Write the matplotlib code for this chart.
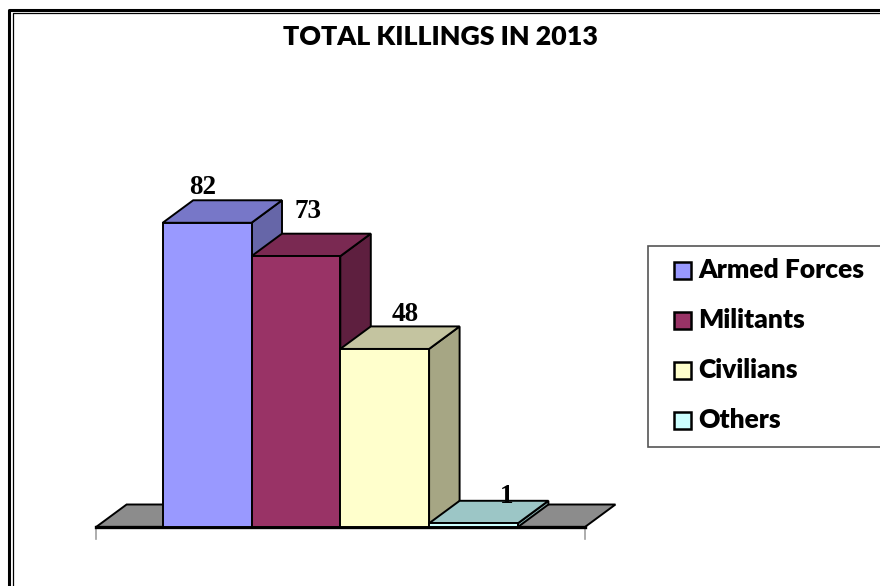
import matplotlib.pyplot as plt
from matplotlib.patches import Polygon, Rectangle

# data
categories = ['Armed Forces', 'Militants', 'Civilians', 'Others']
killings = [82, 73, 48, 1]
title = 'TOTAL KILLINGS IN 2013'

# colours (front, top, side faces)
front_colors = ['#9999FF', '#993366', '#FFFFCC', '#CCFFFF']
top_colors = ['#7777C8', '#7A2952', '#C4C4A0', '#9CC6C6']
side_colors = ['#6666A8', '#5E1F3F', '#A6A684', '#86AEAE']
floor_color = '#8C8C8C'

plt.rcParams['font.family'] = ['Lato', 'DejaVu Sans']

W, H = 880, 586
fig = plt.figure(figsize=(W / 100, H / 100), dpi=100)

# overlay in pixel coords for frame / legend / title
over = fig.add_axes([0, 0, 1, 1])
over.set_xlim(0, W)
over.set_ylim(H, 0)
over.axis('off')

# outer double frame (runs off the right and bottom edges)
over.plot([8.5, 8.5, 900], [600, 9.5, 9.5], color='black', lw=2.2, solid_capstyle='butt')
over.plot([12.5, 12.5, 900], [600, 13, 13], color='black', lw=0.9, solid_capstyle='butt')

over.text(440, 37, title, ha='center', va='center', fontsize=19.3, fontweight='heavy')

# ---- 3D-ish bars in data coordinates ----
x0_px, bar_px = 162.7, 88.8     # left edge of first bar, bar width (px)
base_px, unit_px = 527, 3.71    # baseline y (px from top), px per killing
xlim = (-1, 5.5)
ylim = (-10, 100)
left = (x0_px + xlim[0] * bar_px) / W
width = (xlim[1] - xlim[0]) * bar_px / W
bottom = (H - (base_px - ylim[0] * unit_px)) / H
height = (ylim[1] - ylim[0]) * unit_px / H
ax = fig.add_axes([left, bottom, width, height])
ax.set_xlim(xlim)
ax.set_ylim(ylim)
ax.axis('off')

dx = 30.5 / bar_px   # depth offset in x units
dy = 22.5 / unit_px  # depth offset in value units

fl, fr = -0.75, 4.755
ax.add_patch(Polygon([(fl, 0), (fr, 0), (fr + dx, dy), (fl + dx, dy)],
                     closed=True, facecolor=floor_color, edgecolor='black', lw=1.4, zorder=1))
ax.plot([fl, fr], [0, 0], color='black', lw=2.4, zorder=2)
for xt in [fl, fr]:
    ax.plot([xt, xt], [-0.3, -3.3], color='#A0A0A0', lw=1.2, zorder=1)

label_nudge_px = [(-4, 12.6), (12, 22), (20, 12.4), (33, 4.6)]

for i, v in enumerate(killings):
    z = 3 + i
    ax.add_patch(Polygon([(i + 1, 0), (i + 1 + dx, dy), (i + 1 + dx, v + dy), (i + 1, v)],
                         closed=True, facecolor=side_colors[i], edgecolor='black', lw=1.4, zorder=z))
    ax.add_patch(Polygon([(i, v), (i + 1, v), (i + 1 + dx, v + dy), (i + dx, v + dy)],
                         closed=True, facecolor=top_colors[i], edgecolor='black', lw=1.4, zorder=z))
    ax.add_patch(Rectangle((i, 0), 1, v, facecolor=front_colors[i], edgecolor='black', lw=1.4, zorder=z))
    nx, ny = label_nudge_px[i]
    ax.text(i + 0.5 + nx / bar_px, v + dy + ny / unit_px, str(v), ha='center', va='center',
            fontsize=19.5, fontweight='bold', family='Liberation Serif', zorder=10)

# ---- legend (box runs off the right edge) ----
over.add_patch(Rectangle((648, 246), 300, 201, facecolor='white', edgecolor='#555555', lw=1.2))
for i, name in enumerate(categories):
    yc = 270 + i * 50
    over.add_patch(Rectangle((674, yc - 8.5), 17, 17, facecolor=front_colors[i], edgecolor='black', lw=1.8))
    over.text(698, yc, name, ha='left', va='center', fontsize=19, fontweight='heavy')

fig.savefig('out.png', dpi=100)
